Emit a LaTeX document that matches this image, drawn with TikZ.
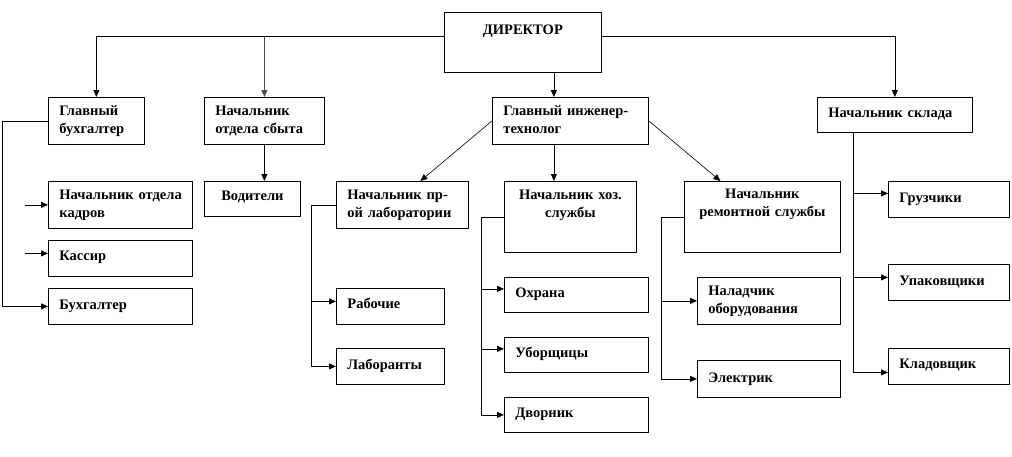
\documentclass[tikz,border=0pt]{standalone}
\usepackage{fontspec}
\setmainfont{Liberation Serif}
\usetikzlibrary{arrows.meta}

\begin{document}
\begin{tikzpicture}[x=1pt,y=-1pt,
    box/.style={draw, line width=0.8pt, anchor=north west, inner ysep=0pt,
        font=\fontsize{14.5}{18}\selectfont\bfseries},
    arr/.style={line width=0.8pt, -{Triangle[length=7pt,width=6pt]}},
  ]
  \useasboundingbox (0,0) rectangle (1012,456);

  % Блоки, текст слева
  \foreach \nm/\x/\y/\bw/\bh/\bl/\txt in {
      gb/48/97/96/47/18/{Главный\\бухгалтер},
      nos/204/97/120/47/18/{Начальник\\отдела~сбыта},
      git/492/97/156/47/18/{Главный~инженер-\\технолог},
      nsk/817/97/155/35/20/{Начальник~склада},
      nok/48/181/144/47/18/{Начальник~отдела\\кадров},
      kas/48/240/144/36/20/{Кассир},
      buh/48/288/144/36/21/{Бухгалтер},
      npl/336/181/132/47/18/{Начальник~пр-\\ой~лаборатории},
      rab/336/288/108/36/20/{Рабочие},
      lab/336/348/108/36/21/{Лаборанты},
      ohr/504/277/144/35/20/{Охрана},
      ubo/504/337/144/35/20/{Уборщицы},
      dvo/504/397/144/35/20/{Дворник},
      nob/697/277/143/47/18/{Наладчик\\оборудования},
      ele/697/360/143/37/22/{Электрик},
      gru/888/181/121/36/21/{Грузчики},
      upa/888/264/121/36/21/{Упаковщики},
      kla/888/348/121/36/20/{Кладовщик}
    } {
    \pgfmathsetmacro\tw{\bw-22}
    \pgfmathsetmacro\dd{\bh-\bl}
    \node[box, inner xsep=11pt, text width=\tw pt, align=left,
          text height=\bl pt, text depth=\dd pt] (\nm) at (\x,\y) {\txt};
  }

  % Блоки, текст по центру
  \foreach \nm/\x/\y/\bw/\bh/\bl/\txt in {
      dir/444/12/157/60/22/{ДИРЕКТОР},
      vod/204/181/96/35/19/{Водители},
      nhs/504/181/132/71/18/{Начальник~хоз.\\службы},
      nrs/684/181/156/71/17/{Начальник\\ремонтной~службы}
    } {
    \pgfmathsetmacro\tw{\bw-10}
    \pgfmathsetmacro\dd{\bh-\bl}
    \node[box, inner xsep=5pt, text width=\tw pt, align=center,
          text height=\bl pt, text depth=\dd pt] (\nm) at (\x,\y) {\txt};
  }

  % Директор
  \coordinate (bus) at ([yshift=6pt]dir.west);
  \coordinate (busr) at ([yshift=6pt]dir.east);
  \coordinate (dtap) at ([xshift=31pt]dir.south);
  \draw[arr] (bus) -| (gb.north);
  \draw[arr, draw=gray!60!black] (bus -| nos.north) -- (nos.north);
  \draw[arr] (busr) -| (nsk.north);
  \draw[arr] (dtap) -- (dtap |- git.north);

  % Главный бухгалтер
  \draw[arr] (gb.west) -- ++(-46,0) |- (buh.west);
  \draw[arr] ([xshift=-23pt]nok.west) -- (nok.west);
  \draw[arr] ([xshift=-23pt,yshift=5pt]kas.west) -- ([yshift=5pt]kas.west);

  % Отдел сбыта
  \draw[arr] (nos.south) -- (nos.south |- vod.north);

  % Главный инженер-технолог
  \draw[arr, line width=0.6pt] (git.west) -- ([xshift=18pt]npl.north);
  \draw[arr, line width=0.6pt] (git.east) -- ([xshift=-42pt]nrs.north);
  \draw[arr] (dtap |- git.south) -- (dtap |- nhs.north);

  % Лаборатория
  \draw[arr] (npl.west) -- ++(-25,0) coordinate (lbus) |- (lab.west);
  \draw[arr] ([yshift=5pt]rab.west -| lbus) -- ([yshift=5pt]rab.west);

  % Хоз. служба
  \draw[arr] (nhs.west) -- ++(-23,0) coordinate (hbus) |- (dvo.west);
  \draw[arr] ([yshift=6pt]ohr.west -| hbus) -- ([yshift=6pt]ohr.west);
  \draw[arr] ([yshift=6pt]ubo.west -| hbus) -- ([yshift=6pt]ubo.west);

  % Ремонтная служба
  \draw[arr] (nrs.west) -- ++(-23,0) coordinate (rbus) |- (ele.west);
  \draw[arr] (rbus |- nob.west) -- (nob.west);

  % Склад
  \coordinate (stap) at ([xshift=-42pt]nsk.south);
  \draw[arr] (stap) |- ([yshift=-6pt]kla.west);
  \draw[arr] ([yshift=6pt]gru.west -| stap) -- ([yshift=6pt]gru.west);
  \draw[arr] ([yshift=5pt]upa.west -| stap) -- ([yshift=5pt]upa.west);
\end{tikzpicture}
\end{document}
